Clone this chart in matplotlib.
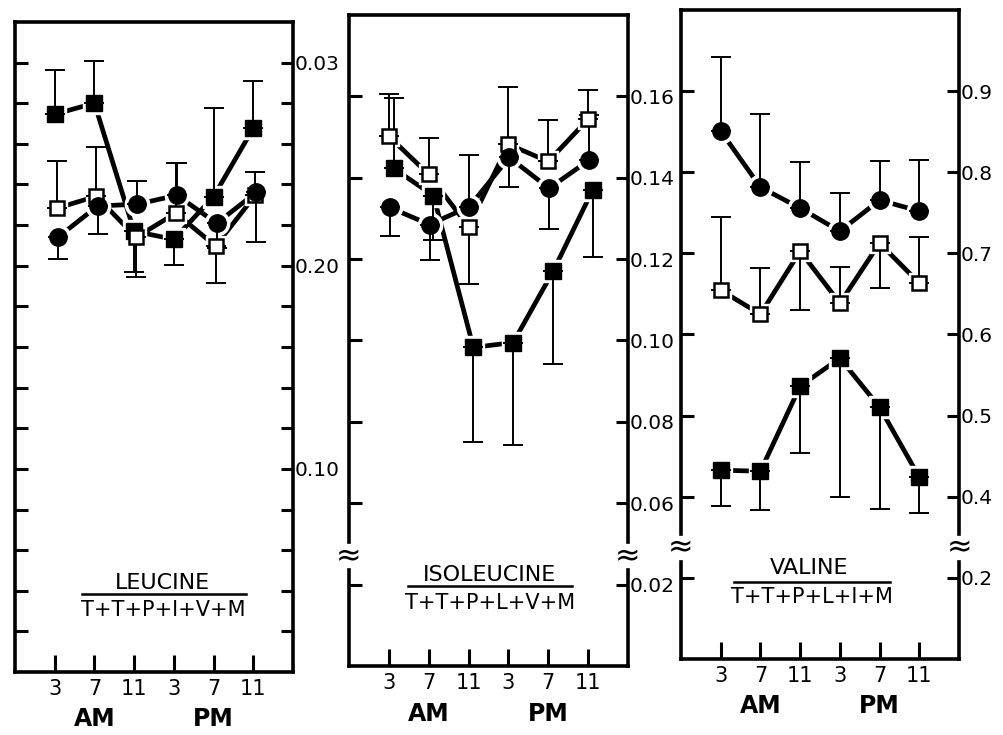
import matplotlib.pyplot as plt
import matplotlib.transforms as mtransforms
import numpy as np

hours = ['3', '7', '11', '3', '7', '11']

# leucine / (T+T+P+I+V+M)
leu_fsq = [0.2746, 0.2800, 0.2170, 0.2130, 0.2340, 0.2677]
leu_fsq_bar = [0.2963, 0.3007, 0.1968, 0.2002, 0.2776, 0.2909]
leu_osq = [0.2283, 0.2342, 0.2140, 0.2259, 0.2097, 0.2347]
leu_osq_bar = [0.2515, 0.2584, 0.1943, 0.2505, 0.1914, 0.2460]
leu_cir = [0.2140, 0.2294, 0.2303, 0.2347, 0.2209, 0.2362]
leu_cir_bar = [0.2032, 0.2155, 0.2416, 0.2505, 0.2086, 0.2115]
leu_ticks = ['0.03', '0.20', '0.10']
leu_tickvals = [0.30, 0.20, 0.10]

# isoleucine / (T+T+P+L+V+M)
ile_fsq = [0.1423, 0.1356, 0.0983, 0.0995, 0.1170, 0.1371]
ile_fsq_bar = [0.1595, 0.1248, 0.0751, 0.0744, 0.0943, 0.1206]
ile_osq = [0.1502, 0.1408, 0.1280, 0.1482, 0.1440, 0.1544]
ile_osq_bar = [0.1606, 0.1497, 0.1140, 0.1622, 0.1541, 0.1615]
ile_cir = [0.1327, 0.1285, 0.1329, 0.1450, 0.1374, 0.1443]
ile_cir_bar = [0.1256, 0.1199, 0.1457, 0.1378, 0.1273, 0.1553]
ile_ticks = ['0.02', '0.06', '0.08', '0.10', '0.12', '0.14', '0.16']
ile_tickvals = [0.02, 0.06, 0.08, 0.10, 0.12, 0.14, 0.16]

# valine / (T+T+P+L+I+M)
val_cir = [0.8507, 0.7816, 0.7557, 0.7274, 0.7656, 0.7521]
val_cir_bar = [0.9420, 0.8716, 0.8125, 0.7743, 0.8137, 0.8150]
val_osq = [0.6546, 0.6250, 0.7027, 0.6386, 0.7126, 0.6633]
val_osq_bar = [0.7446, 0.6817, 0.6300, 0.6830, 0.6570, 0.7200]
val_fsq = [0.4327, 0.4315, 0.5363, 0.5708, 0.5104, 0.4241]
val_fsq_bar = [0.3883, 0.3834, 0.4536, 0.3994, 0.3846, 0.3796]
val_ticks = ['0.2', '0.4', '0.5', '0.6', '0.7', '0.8', '0.9']
val_tickvals = [0.2, 0.4, 0.5, 0.6, 0.7, 0.8, 0.9]

plt.rcParams['font.family'] = 'DejaVu Sans'

fig = plt.figure(figsize=(10.04, 7.35), dpi=100)

MARKERS = {
    'fsq': dict(marker='s', ms=11, mfc='black', mec='black', mew=1),
    'osq': dict(marker='s', ms=10, mfc='white', mec='black', mew=1.8),
    'cir': dict(marker='o', ms=12.5, mfc='black', mec='black', mew=1),
}


def plot_series(ax, y, ends, kind, dodge=0.0):
    x = np.arange(len(y)) + dodge
    y = np.array(y)
    ends = np.array(ends)
    st = MARKERS[kind]
    ax.plot(x, y, color='black', lw=3.4, zorder=1, solid_capstyle='butt')
    ax.plot(x, y, ls='none', marker=st['marker'], ms=st['ms'] + 5,
            color='white', zorder=2)
    err = [np.clip(y - ends, 0, None), np.clip(ends - y, 0, None)]
    ax.errorbar(x, y, yerr=err, fmt='none', ecolor='black', elinewidth=1.4,
                capsize=7, capthick=1.4, zorder=3)
    ax.plot(x, y, ls='none', zorder=4, **st)


def draw_break(ax, ybrk):
    trans = mtransforms.blended_transform_factory(ax.transAxes, ax.transData)
    span = (ax.get_ylim()[1] - ax.get_ylim()[0]) * 0.012
    for xa in (0, 1):
        ax.plot([xa, xa], [ybrk - span, ybrk + span], transform=trans,
                color='white', lw=6, clip_on=False, zorder=5)
        ax.text(xa, ybrk, '\u2248', transform=trans, ha='center',
                va='center', fontsize=22, zorder=6, clip_on=False)


def setup(ax, ylim, minor, labels, label_pos):
    ax.set_xlim(-1.0, 6.0)
    ax.set_ylim(*ylim)
    ax.set_xticks(range(6))
    ax.set_xticklabels(hours)
    ax.set_yticks(minor, minor=True)
    ax.set_yticks(label_pos)
    ax.set_yticklabels(labels)
    for s in ax.spines.values():
        s.set_linewidth(2.6)
    ax.tick_params(axis='y', which='both', direction='in', left=True,
                   right=True, labelleft=False, labelright=True, width=2.2,
                   length=9, labelsize=14.5, pad=1)
    ax.tick_params(axis='x', direction='in', top=False, width=2.2,
                   length=12, labelsize=15, pad=5)
    ax.annotate('AM', xy=(1, -0.073), xycoords=('data', 'axes fraction'),
                ha='center', va='center', fontsize=17, fontweight='bold')
    ax.annotate('PM', xy=(4, -0.073), xycoords=('data', 'axes fraction'),
                ha='center', va='center', fontsize=17, fontweight='bold')


def ratio_label(ax, num, den, xc, x0, x1, ynum, yline, yden):
    ax.text(xc, ynum, num, transform=ax.transAxes, ha='center',
            va='center', fontsize=16)
    ax.plot([x0, x1], [yline, yline], transform=ax.transAxes,
            color='black', lw=1.8)
    ax.text((x0 + x1) / 2, yden, den, transform=ax.transAxes, ha='center',
            va='center', fontsize=15)


# panel 1: leucine
ax1 = fig.add_axes([0.0149, 0.0857, 0.2769, 0.8844])
setup(ax1, (0.0, 0.32), np.arange(0.02, 0.31, 0.02), leu_ticks, leu_tickvals)
plot_series(ax1, leu_fsq, leu_fsq_bar, 'fsq')
plot_series(ax1, leu_osq, leu_osq_bar, 'osq', 0.05)
plot_series(ax1, leu_cir, leu_cir_bar, 'cir', 0.08)
ratio_label(ax1, 'LEUCINE', 'T+T+P+I+V+M', 0.53, 0.24, 0.83,
            0.137, 0.12, 0.095)

# panel 2: isoleucine (axis broken below 0.06)
ax2 = fig.add_axes([0.3476, 0.0939, 0.2779, 0.8857])
ile_pos = [v + 0.02 if v < 0.05 else v for v in ile_tickvals]
setup(ax2, (0.02, 0.18), ile_pos, ile_ticks, ile_pos)
plot_series(ax2, ile_osq, ile_osq_bar, 'osq')
plot_series(ax2, ile_fsq, ile_fsq_bar, 'fsq', 0.12)
plot_series(ax2, ile_cir, ile_cir_bar, 'cir', 0.02)
draw_break(ax2, 0.047)
ratio_label(ax2, 'ISOLEUCINE', 'T+T+P+L+V+M', 0.505, 0.21, 0.80,
            0.14, 0.123, 0.097)

# panel 3: valine (axis broken below 0.4)
ax3 = fig.add_axes([0.6783, 0.1034, 0.2769, 0.8830])
val_pos = [v + 0.1 if v < 0.3 else v for v in val_tickvals]
setup(ax3, (0.2, 1.0), val_pos, val_ticks, val_pos)
plot_series(ax3, val_cir, val_cir_bar, 'cir')
plot_series(ax3, val_osq, val_osq_bar, 'osq')
plot_series(ax3, val_fsq, val_fsq_bar, 'fsq')
draw_break(ax3, 0.337)
ratio_label(ax3, 'VALINE', 'T+T+P+L+I+M', 0.46, 0.19, 0.75,
            0.14, 0.119, 0.0955)

fig.savefig('out.png', dpi=100)
